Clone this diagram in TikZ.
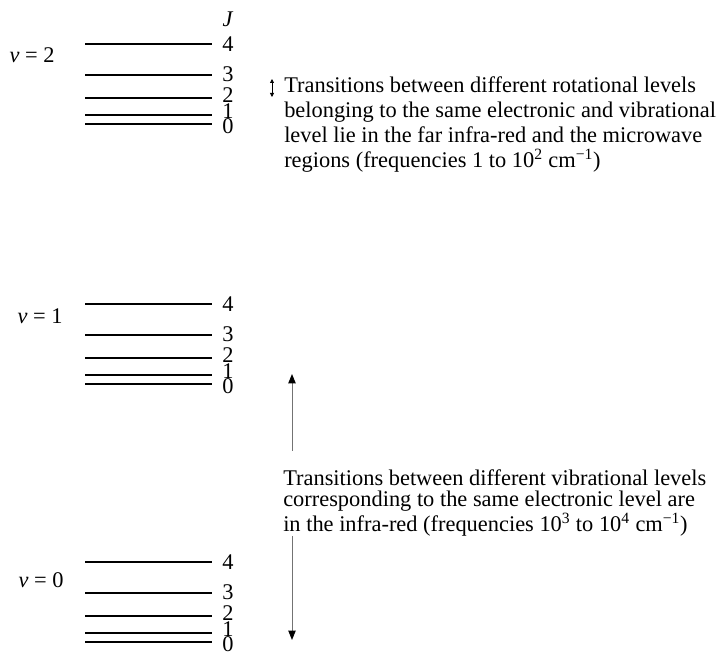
\documentclass[tikz,border=0pt]{standalone}
\usepackage{fontspec}
\setmainfont{Liberation Serif}
\usetikzlibrary{arrows.meta}
\begin{document}
\begin{tikzpicture}[x=0.75pt,y=-0.75pt,
  level/.style={line width=1.05pt},
  lab/.style={font=\fontsize{16.8}{18}\selectfont, inner sep=0pt},
  digit/.style={font=\fontsize{16.8}{18}\selectfont, inner sep=0pt, text height=11pt, text depth=0pt},
  txt/.style={font=\fontsize{16.8}{18}\selectfont, inner sep=0pt, anchor=base west},
  shaft/.style={draw=black!55, line width=0.7pt},
  bighead/.style={-{Triangle[length=7pt,width=5.5pt,color=black]}},
  smallhead/.style={{Triangle[length=3pt,width=3pt,color=black]}-{Triangle[length=3pt,width=3pt,color=black]}}]
\useasboundingbox (0,0) rectangle (719,652);
% rotational levels of each vibrational level
\foreach \g/\yz in {2/124, 1/384, 0/642}{
  \foreach \J/\off/\loff in {0/0/2, 1/9/-4, 2/26/-3, 3/49/-1, 4/80/0}{
    \draw[level] (85,{\yz-\off}) -- (212,{\yz-\off});
    \node[digit] (J\g\J) at (228,{\yz-\off+\loff}) {\J};
  }
}
\node[lab] (Jhead) at (228,19) {\textit{J}};
\node[lab] (v2) at (32,55) {\textit{v} = 2};
\node[lab] (v1) at (40,316) {\textit{v} = 1};
\node[lab] (v0) at (41,580) {\textit{v} = 0};
% rotational transitions
\coordinate (sa1) at (272,79);
\coordinate (sa2) at (272,97);
\draw[smallhead, line width=0.6pt] (sa1) -- (sa2);
\node[txt] (rot) at (284,93) {\vtop{\baselineskip=18.75pt
  \hbox{Transitions between different rotational levels}
  \hbox{belonging to the same electronic and vibrational}
  \hbox{level lie in the far infra-red and the microwave}
  \hbox{regions (frequencies 1 to 10\textsuperscript{2} cm\textsuperscript{−1})}}};
% vibrational transitions
\node[txt] (vib) at (283,486) {\vtop{\baselineskip=15.75pt
  \hbox{Transitions between different vibrational levels}
  \hbox{corresponding to the same electronic level are}
  \hbox{in the infra-red (frequencies 10\textsuperscript{3} to 10\textsuperscript{4} cm\textsuperscript{−1})}}};
\coordinate (vtop) at (292,374);
\coordinate (vbot) at (292,640);
\coordinate (up0) at (292,451);
\coordinate (dn0) at (292,536);
\draw[shaft, bighead] (up0) -- (vtop);
\draw[shaft, bighead] (dn0) -- (vbot);
\end{tikzpicture}
\end{document}
